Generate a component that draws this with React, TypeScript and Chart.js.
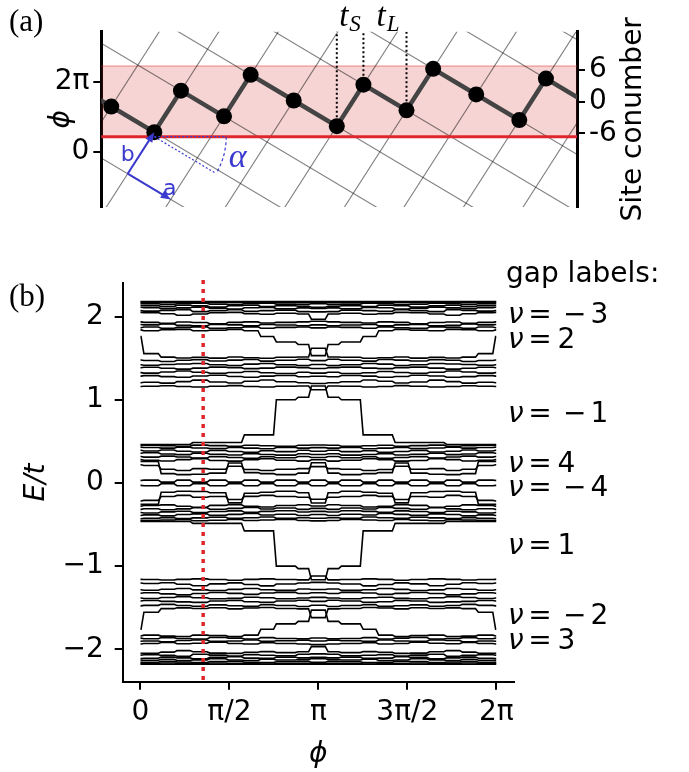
import React, { useEffect, useRef } from "react";
import { Chart, registerables } from "chart.js";
Chart.register(...registerables);

// ================= Panel (b): spectrum data =================
// segment edges in phi (levels are constant on each segment)
const phiSegmentEdges = [0, 0.035, 0.34, 0.62, 0.9, 1.2, 1.53, 1.81, 2.1, 2.375, 2.76, 2.994, 3.289, 3.524, 3.908, 4.183, 4.473, 4.753, 5.083, 5.383, 5.663, 5.943, 6.248, 6.2832];

// upper top cluster and sub band (E ~ 1.8 .. 2.2)
const levelsUpperOuter = [
  [2.18,2.18,2.18,2.18,2.18,2.18,2.18,2.18,2.18,2.18,2.18,2.18,2.18,2.18,2.18,2.18,2.18,2.18,2.18,2.18,2.18,2.18,2.18],
  [2.172,2.172,2.166,2.17,2.172,2.166,2.17,2.172,2.166,2.172,2.168,2.172,2.168,2.172,2.166,2.172,2.17,2.166,2.172,2.17,2.166,2.172,2.172],
  [2.158,2.156,2.146,2.154,2.16,2.148,2.144,2.156,2.16,2.15,2.146,2.156,2.146,2.15,2.16,2.156,2.144,2.148,2.16,2.154,2.146,2.156,2.158],
  [2.134,2.132,2.12,2.136,2.128,2.114,2.13,2.136,2.12,2.13,2.124,2.112,2.124,2.13,2.12,2.136,2.13,2.114,2.128,2.136,2.12,2.132,2.134],
  [2.112,2.108,2.094,2.104,2.114,2.098,2.09,2.106,2.11,2.094,2.104,2.098,2.104,2.094,2.11,2.106,2.09,2.098,2.114,2.104,2.094,2.108,2.112],
  [2.072,2.066,2.074,2.084,2.06,2.07,2.082,2.064,2.072,2.078,2.06,2.056,2.06,2.078,2.072,2.064,2.082,2.07,2.06,2.084,2.074,2.066,2.072],
  [2.05,2.048,2.034,2.016,2.03,2.046,2.05,2.036,2.028,2.04,2.03,1.968,2.03,2.04,2.028,2.036,2.05,2.046,2.03,2.016,2.034,2.048,2.05],
  [1.936,1.93,1.918,1.934,1.928,1.914,1.93,1.936,1.922,1.93,1.936,1.944,1.936,1.93,1.922,1.936,1.93,1.914,1.928,1.934,1.918,1.93,1.936],
  [1.904,1.9,1.91,1.894,1.888,1.904,1.9,1.888,1.904,1.898,1.89,1.9,1.89,1.898,1.904,1.888,1.9,1.904,1.888,1.894,1.91,1.9,1.904],
  [1.866,1.874,1.86,1.87,1.876,1.858,1.866,1.876,1.86,1.87,1.874,1.864,1.874,1.87,1.86,1.876,1.866,1.858,1.876,1.87,1.86,1.874,1.866],
  [1.84,1.83,1.842,1.846,1.83,1.836,1.846,1.83,1.76,1.695,1.665,1.53,1.665,1.695,1.76,1.83,1.846,1.836,1.83,1.846,1.842,1.83,1.84],
];
// upper middle band (E ~ 1.15 .. 1.52), first one carries the phi~0 gap state
const levelsUpperMiddle = [
  [1.76,1.555,1.512,1.502,1.51,1.5,1.514,1.504,1.498,1.51,1.514,1.62,1.514,1.51,1.498,1.504,1.514,1.5,1.51,1.502,1.512,1.555,1.76],
  [1.478,1.472,1.46,1.474,1.482,1.466,1.476,1.484,1.464,1.474,1.486,1.47,1.486,1.474,1.464,1.484,1.476,1.466,1.482,1.474,1.46,1.472,1.478],
  [1.42,1.414,1.424,1.43,1.436,1.42,1.412,1.428,1.436,1.42,1.41,1.424,1.41,1.42,1.436,1.428,1.412,1.42,1.436,1.43,1.424,1.414,1.42],
  [1.384,1.39,1.378,1.368,1.38,1.392,1.386,1.374,1.38,1.392,1.384,1.376,1.384,1.392,1.38,1.374,1.386,1.392,1.38,1.368,1.378,1.39,1.384],
  [1.326,1.32,1.334,1.346,1.33,1.318,1.328,1.34,1.324,1.316,1.33,1.32,1.33,1.316,1.324,1.34,1.328,1.318,1.33,1.346,1.334,1.32,1.326],
  [1.284,1.29,1.278,1.27,1.286,1.294,1.28,1.27,1.284,1.292,1.276,1.282,1.276,1.292,1.284,1.27,1.28,1.294,1.286,1.27,1.278,1.29,1.284],
  [1.204,1.21,1.2,1.218,1.236,1.214,1.202,1.222,1.238,1.216,1.204,1.196,1.204,1.216,1.238,1.222,1.202,1.214,1.236,1.218,1.2,1.21,1.204],
  [1.16,1.162,1.168,1.16,1.154,1.162,1.17,1.16,1.154,1.162,1.166,1.12,1.166,1.162,1.154,1.16,1.17,1.162,1.154,1.16,1.168,1.162,1.16],
];
// in-gap state of the nu = -1 gap
const levelsUpperEdge = [
  [0.462,0.462,0.462,0.462,0.486,0.486,0.486,0.577,0.577,1.0,1.03,1.165,1.03,1.0,0.577,0.577,0.486,0.486,0.486,0.462,0.462,0.462,0.462],
];
// central band, positive side
const levelsUpperInner = [
  [0.452,0.452,0.446,0.44,0.454,0.448,0.44,0.452,0.446,0.44,0.452,0.456,0.452,0.44,0.446,0.452,0.44,0.448,0.454,0.44,0.446,0.452,0.452],
  [0.43,0.426,0.418,0.428,0.42,0.412,0.426,0.418,0.41,0.426,0.418,0.424,0.418,0.426,0.41,0.418,0.426,0.412,0.42,0.428,0.418,0.426,0.43],
  [0.392,0.384,0.396,0.38,0.372,0.39,0.378,0.368,0.386,0.376,0.392,0.38,0.392,0.376,0.386,0.368,0.378,0.39,0.372,0.38,0.396,0.384,0.392],
  [0.356,0.362,0.348,0.34,0.356,0.344,0.336,0.352,0.342,0.334,0.35,0.342,0.35,0.334,0.342,0.352,0.336,0.344,0.356,0.34,0.348,0.362,0.356],
  [0.318,0.31,0.322,0.312,0.298,0.316,0.306,0.296,0.314,0.302,0.318,0.306,0.318,0.302,0.314,0.296,0.306,0.316,0.298,0.312,0.322,0.31,0.318],
  [0.28,0.272,0.264,0.28,0.292,0.27,0.262,0.28,0.29,0.272,0.262,0.278,0.262,0.272,0.29,0.28,0.262,0.27,0.292,0.28,0.264,0.272,0.28],
  [0.258,0.258,0.112,0.1,0.104,0.118,0.24,0.124,0.112,0.1,0.118,0.242,0.118,0.1,0.112,0.124,0.24,0.118,0.104,0.1,0.112,0.258,0.258],
  [0.218,0.21,0.164,0.15,0.172,0.164,0.2,0.162,0.15,0.164,0.172,0.196,0.172,0.164,0.15,0.162,0.2,0.164,0.172,0.15,0.164,0.21,0.218],
  [0.03,0.034,0.01,0.034,0.01,0.034,0.01,0.034,0.01,0.034,0.01,0.034,0.01,0.034,0.01,0.034,0.01,0.034,0.01,0.034,0.01,0.034,0.03],
];
// central band, negative side
const levelsLowerInner = [
  [-0.03,-0.034,-0.01,-0.034,-0.01,-0.034,-0.01,-0.034,-0.01,-0.034,-0.01,-0.034,-0.01,-0.034,-0.01,-0.034,-0.01,-0.034,-0.01,-0.034,-0.01,-0.034,-0.03],
  [-0.218,-0.21,-0.164,-0.15,-0.172,-0.164,-0.2,-0.162,-0.15,-0.164,-0.172,-0.196,-0.172,-0.164,-0.15,-0.162,-0.2,-0.164,-0.172,-0.15,-0.164,-0.21,-0.218],
  [-0.258,-0.258,-0.112,-0.1,-0.104,-0.118,-0.24,-0.124,-0.112,-0.1,-0.118,-0.242,-0.118,-0.1,-0.112,-0.124,-0.24,-0.118,-0.104,-0.1,-0.112,-0.258,-0.258],
  [-0.28,-0.272,-0.264,-0.28,-0.292,-0.27,-0.262,-0.28,-0.29,-0.272,-0.262,-0.278,-0.262,-0.272,-0.29,-0.28,-0.262,-0.27,-0.292,-0.28,-0.264,-0.272,-0.28],
  [-0.318,-0.31,-0.322,-0.312,-0.298,-0.316,-0.306,-0.296,-0.314,-0.302,-0.318,-0.306,-0.318,-0.302,-0.314,-0.296,-0.306,-0.316,-0.298,-0.312,-0.322,-0.31,-0.318],
  [-0.356,-0.362,-0.348,-0.34,-0.356,-0.344,-0.336,-0.352,-0.342,-0.334,-0.35,-0.342,-0.35,-0.334,-0.342,-0.352,-0.336,-0.344,-0.356,-0.34,-0.348,-0.362,-0.356],
  [-0.392,-0.384,-0.396,-0.38,-0.372,-0.39,-0.378,-0.368,-0.386,-0.376,-0.392,-0.38,-0.392,-0.376,-0.386,-0.368,-0.378,-0.39,-0.372,-0.38,-0.396,-0.384,-0.392],
  [-0.43,-0.426,-0.418,-0.428,-0.42,-0.412,-0.426,-0.418,-0.41,-0.426,-0.418,-0.424,-0.418,-0.426,-0.41,-0.418,-0.426,-0.412,-0.42,-0.428,-0.418,-0.426,-0.43],
  [-0.452,-0.452,-0.446,-0.44,-0.454,-0.448,-0.44,-0.452,-0.446,-0.44,-0.452,-0.456,-0.452,-0.44,-0.446,-0.452,-0.44,-0.448,-0.454,-0.44,-0.446,-0.452,-0.452],
];
// in-gap state of the nu = 1 gap
const levelsLowerEdge = [
  [-0.462,-0.462,-0.462,-0.462,-0.486,-0.486,-0.486,-0.577,-0.577,-1.0,-1.03,-1.165,-1.03,-1.0,-0.577,-0.577,-0.486,-0.486,-0.486,-0.462,-0.462,-0.462,-0.462],
];
// lower middle band (E ~ -1.15 .. -1.52)
const levelsLowerMiddle = [
  [-1.16,-1.162,-1.168,-1.16,-1.154,-1.162,-1.17,-1.16,-1.154,-1.162,-1.166,-1.12,-1.166,-1.162,-1.154,-1.16,-1.17,-1.162,-1.154,-1.16,-1.168,-1.162,-1.16],
  [-1.204,-1.21,-1.2,-1.218,-1.236,-1.214,-1.202,-1.222,-1.238,-1.216,-1.204,-1.196,-1.204,-1.216,-1.238,-1.222,-1.202,-1.214,-1.236,-1.218,-1.2,-1.21,-1.204],
  [-1.284,-1.29,-1.278,-1.27,-1.286,-1.294,-1.28,-1.27,-1.284,-1.292,-1.276,-1.282,-1.276,-1.292,-1.284,-1.27,-1.28,-1.294,-1.286,-1.27,-1.278,-1.29,-1.284],
  [-1.326,-1.32,-1.334,-1.346,-1.33,-1.318,-1.328,-1.34,-1.324,-1.316,-1.33,-1.32,-1.33,-1.316,-1.324,-1.34,-1.328,-1.318,-1.33,-1.346,-1.334,-1.32,-1.326],
  [-1.384,-1.39,-1.378,-1.368,-1.38,-1.392,-1.386,-1.374,-1.38,-1.392,-1.384,-1.376,-1.384,-1.392,-1.38,-1.374,-1.386,-1.392,-1.38,-1.368,-1.378,-1.39,-1.384],
  [-1.42,-1.414,-1.424,-1.43,-1.436,-1.42,-1.412,-1.428,-1.436,-1.42,-1.41,-1.424,-1.41,-1.42,-1.436,-1.428,-1.412,-1.42,-1.436,-1.43,-1.424,-1.414,-1.42],
  [-1.478,-1.472,-1.46,-1.474,-1.482,-1.466,-1.476,-1.484,-1.464,-1.474,-1.486,-1.47,-1.486,-1.474,-1.464,-1.484,-1.476,-1.466,-1.482,-1.474,-1.46,-1.472,-1.478],
  [-1.76,-1.555,-1.512,-1.502,-1.51,-1.5,-1.514,-1.504,-1.498,-1.51,-1.514,-1.62,-1.514,-1.51,-1.498,-1.504,-1.514,-1.5,-1.51,-1.502,-1.512,-1.555,-1.76],
];
// lower sub band and bottom cluster
const levelsLowerOuter = [
  [-1.84,-1.83,-1.842,-1.846,-1.83,-1.836,-1.846,-1.83,-1.76,-1.695,-1.665,-1.53,-1.665,-1.695,-1.76,-1.83,-1.846,-1.836,-1.83,-1.846,-1.842,-1.83,-1.84],
  [-1.866,-1.874,-1.86,-1.87,-1.876,-1.858,-1.866,-1.876,-1.86,-1.87,-1.874,-1.864,-1.874,-1.87,-1.86,-1.876,-1.866,-1.858,-1.876,-1.87,-1.86,-1.874,-1.866],
  [-1.904,-1.9,-1.91,-1.894,-1.888,-1.904,-1.9,-1.888,-1.904,-1.898,-1.89,-1.9,-1.89,-1.898,-1.904,-1.888,-1.9,-1.904,-1.888,-1.894,-1.91,-1.9,-1.904],
  [-1.936,-1.93,-1.918,-1.934,-1.928,-1.914,-1.93,-1.936,-1.922,-1.93,-1.936,-1.944,-1.936,-1.93,-1.922,-1.936,-1.93,-1.914,-1.928,-1.934,-1.918,-1.93,-1.936],
  [-2.05,-2.048,-2.034,-2.016,-2.03,-2.046,-2.05,-2.036,-2.028,-2.04,-2.03,-1.968,-2.03,-2.04,-2.028,-2.036,-2.05,-2.046,-2.03,-2.016,-2.034,-2.048,-2.05],
  [-2.072,-2.066,-2.074,-2.084,-2.06,-2.07,-2.082,-2.064,-2.072,-2.078,-2.06,-2.056,-2.06,-2.078,-2.072,-2.064,-2.082,-2.07,-2.06,-2.084,-2.074,-2.066,-2.072],
  [-2.112,-2.108,-2.094,-2.104,-2.114,-2.098,-2.09,-2.106,-2.11,-2.094,-2.104,-2.098,-2.104,-2.094,-2.11,-2.106,-2.09,-2.098,-2.114,-2.104,-2.094,-2.108,-2.112],
  [-2.134,-2.132,-2.12,-2.136,-2.128,-2.114,-2.13,-2.136,-2.12,-2.13,-2.124,-2.112,-2.124,-2.13,-2.12,-2.136,-2.13,-2.114,-2.128,-2.136,-2.12,-2.132,-2.134],
  [-2.158,-2.156,-2.146,-2.154,-2.16,-2.148,-2.144,-2.156,-2.16,-2.15,-2.146,-2.156,-2.146,-2.15,-2.16,-2.156,-2.144,-2.148,-2.16,-2.154,-2.146,-2.156,-2.158],
  [-2.172,-2.172,-2.166,-2.17,-2.172,-2.166,-2.17,-2.172,-2.166,-2.172,-2.168,-2.172,-2.168,-2.172,-2.166,-2.172,-2.17,-2.166,-2.172,-2.17,-2.166,-2.172,-2.172],
  [-2.18,-2.18,-2.18,-2.18,-2.18,-2.18,-2.18,-2.18,-2.18,-2.18,-2.18,-2.18,-2.18,-2.18,-2.18,-2.18,-2.18,-2.18,-2.18,-2.18,-2.18,-2.18,-2.18],
];

const gapLabelNu = ["−3", "2", "−1", "4", "−4", "1", "−2", "3"];
const gapLabelE = [2.011, 1.714, 0.824, 0.216, -0.072, -0.77, -1.612, -1.912];
const markerPhi = 1.107;
const markerERange = [-2.37, 2.5];
const eTicks = [-2, -1, 0, 1, 2];
const eTickLabels = ["−2", "−1", "0", "1", "2"];
const phiTicks = [0, Math.PI / 2, Math.PI, (3 * Math.PI) / 2, 2 * Math.PI];
const phiTickLabels = ["0", "π/2", "π", "3π/2", "2π"];

// ================= Panel (a): schematic data =================
const latticeAngleDeg = 31.72;
const chainM = [-2, -1, 0, 0, 1, 1, 2, 3, 3, 4, 4, 5, 6, 6, 7];
const chainN = [1, 1, 1, 2, 2, 3, 3, 3, 4, 4, 5, 5, 5, 6, 6];
const hoppingMarkSites = [7, 8, 9];
const gridLinesAlongA = [-2, -1, 0, 1, 2, 3, 4, 5, 6, 7, 8];
const gridLinesAlongB = [-3, -2, -1, 0, 1, 2, 3, 4, 5, 6, 7, 8, 9];
const windowBottom = 0.758;
const windowTop = 2.207;
const phiAxisTicks = [0, 2 * Math.PI];
const phiAxisLabels = ["0", "2π"];
const siteTicks = [-6, 0, 6];
const siteTickLabels = ["-6", "0", "6"];
const alphaRefLength = 1.42;

const FONT = "DejaVu Sans";
const RED = "#e0262a";
const BLUE = "#3a3acf";

const th = (latticeAngleDeg * Math.PI) / 180;
const vecA = { x: Math.cos(th), y: -Math.sin(th) };
const vecB = { x: Math.sin(th), y: Math.cos(th) };
const site = (m: number, n: number) => ({ x: m * vecA.x + n * vecB.x, y: m * vecA.y + n * vecB.y });

const RAMP = 0.025;
function stepPoints(values: number[]) {
  const pts: { x: number; y: number }[] = [];
  const last = values.length - 1;
  values.forEach((v, k) => {
    const x0 = k === 0 ? phiSegmentEdges[0] : phiSegmentEdges[k] + RAMP;
    const x1 = k === last ? phiSegmentEdges[k + 1] : phiSegmentEdges[k + 1] - RAMP;
    pts.push({ x: x0, y: v }, { x: x1, y: v });
  });
  return pts;
}

function axisStyle(width: number) {
  return {
    border: { display: true, color: "#000", width },
    grid: { display: true, drawOnChartArea: false, drawTicks: true, tickLength: 8, tickWidth: 2, tickColor: "#000", color: "#000", lineWidth: 2 },
  };
}

function buildChartA(canvas: HTMLCanvasElement) {
  const chainPts = chainM.map((m, i) => site(m, chainN[i]));
  const datasets: any[] = [];
  datasets.push({
    data: [{ x: -3, y: windowTop }, { x: 12, y: windowTop }],
    borderColor: "rgba(214,39,40,0.35)", borderWidth: 1.5,
    backgroundColor: "rgba(214,39,40,0.2)", fill: { value: windowBottom },
    pointRadius: 0, xAxisID: "x", yAxisID: "yLat", order: 10,
  });
  gridLinesAlongA.forEach((n) => {
    datasets.push({ data: [site(-14, n), site(14, n)], borderColor: "rgba(0,0,0,0.5)", borderWidth: 1.1, pointRadius: 0, fill: false, xAxisID: "x", yAxisID: "yLat", order: 9 });
  });
  gridLinesAlongB.forEach((m) => {
    datasets.push({ data: [site(m, -14), site(m, 14)], borderColor: "rgba(0,0,0,0.5)", borderWidth: 1.1, pointRadius: 0, fill: false, xAxisID: "x", yAxisID: "yLat", order: 9 });
  });
  datasets.push({
    data: [{ x: -3, y: windowBottom }, { x: 12, y: windowBottom }],
    borderColor: RED, borderWidth: 3, pointRadius: 0, fill: false, xAxisID: "x", yAxisID: "yLat", order: 8,
  });
  datasets.push({ data: chainPts, borderColor: "#444444", borderWidth: 4.5, pointRadius: 0, fill: false, xAxisID: "x", yAxisID: "yLat", order: 7, clip: 0 });
  hoppingMarkSites.forEach((idx) => {
    const p = chainPts[idx];
    datasets.push({ data: [p, { x: p.x, y: 4 }], borderColor: "#000", borderWidth: 2, borderDash: [2, 2.5], pointRadius: 0, fill: false, xAxisID: "x", yAxisID: "yLat", order: 6 });
  });
  datasets.push({ data: chainPts, showLine: false, pointRadius: 8, pointBackgroundColor: "#000", pointBorderColor: "#000", pointBorderWidth: 0, xAxisID: "x", yAxisID: "yLat", order: 5, clip: 0 });

  const overlayA = {
    id: "overlayA",
    afterDatasetsDraw(chart: any) {
      const ctx = chart.ctx;
      const xs = chart.scales.x, ys = chart.scales.yLat;
      const P = (x: number, y: number) => [xs.getPixelForValue(x), ys.getPixelForValue(y)];
      ctx.save();
      // alpha construction
      const [vx, vy] = P(vecB.x, windowBottom);
      const [hx] = P(vecB.x + alphaRefLength, windowBottom);
      const [ex, ey] = P(vecB.x + alphaRefLength * vecA.x, windowBottom + alphaRefLength * vecA.y);
      ctx.strokeStyle = BLUE; ctx.lineWidth = 1.2; ctx.setLineDash([2, 2]);
      ctx.beginPath(); ctx.moveTo(vx, vy); ctx.lineTo(hx, vy); ctx.stroke();
      ctx.beginPath(); ctx.moveTo(vx, vy); ctx.lineTo(ex, ey); ctx.stroke();
      ctx.setLineDash([3, 2.5]);
      const r = hx - vx;
      const angEnd = Math.atan2(ey - vy, ex - vx);
      ctx.beginPath(); ctx.arc(vx, vy, r, 0, angEnd); ctx.stroke();
      ctx.setLineDash([]);
      // lattice vectors
      const [ox, oy] = P(0, 0);
      const arrow = (x1: number, y1: number) => {
        const ang = Math.atan2(y1 - oy, x1 - ox), L = 10, W = 4;
        ctx.strokeStyle = BLUE; ctx.fillStyle = BLUE; ctx.lineWidth = 2;
        ctx.beginPath(); ctx.moveTo(ox, oy); ctx.lineTo(x1 - L * 0.7 * Math.cos(ang), y1 - L * 0.7 * Math.sin(ang)); ctx.stroke();
        ctx.beginPath(); ctx.moveTo(x1, y1);
        ctx.lineTo(x1 - L * Math.cos(ang) + W * Math.sin(ang), y1 - L * Math.sin(ang) - W * Math.cos(ang));
        ctx.lineTo(x1 - L * Math.cos(ang) - W * Math.sin(ang), y1 - L * Math.sin(ang) + W * Math.cos(ang));
        ctx.closePath(); ctx.fill();
      };
      const [axp, ayp] = P(vecA.x, vecA.y);
      const [bxp, byp] = P(vecB.x, vecB.y);
      arrow(axp, ayp); arrow(bxp, byp);
      ctx.fillStyle = BLUE; ctx.textAlign = "center"; ctx.textBaseline = "middle";
      ctx.font = `22px ${FONT}`;
      let [tx, ty] = P(0.0, 0.38); ctx.fillText("b", tx, ty);
      [tx, ty] = P(0.83, -0.32); ctx.fillText("a", tx, ty);
      ctx.font = `italic 34px "Liberation Serif"`;
      [tx, ty] = P(2.17, 0.33); ctx.fillText("α", tx, ty);
      // hopping labels
      ctx.fillStyle = "#000";
      const hop = (x: number, main: string, sub: string) => {
        const [px, py] = P(x, 3.2);
        ctx.textAlign = "left"; ctx.textBaseline = "alphabetic";
        ctx.font = `italic 33px "Liberation Serif"`;
        const w = ctx.measureText(main).width;
        ctx.font = `italic 23px "Liberation Serif"`;
        const ws = ctx.measureText(sub).width;
        const x0 = px - (w + ws) / 2;
        ctx.font = `italic 33px "Liberation Serif"`;
        ctx.fillText(main, x0, py + 8);
        ctx.font = `italic 23px "Liberation Serif"`;
        ctx.fillText(sub, x0 + w + 1, py + 13);
      };
      hop(4.38, "t", "S");
      hop(5.13, "t", "L");
      // panel label and right axis title
      ctx.textAlign = "left"; ctx.textBaseline = "alphabetic";
      ctx.font = `31px "Liberation Serif"`;
      ctx.fillText("(a)", 9, 31);
      const ca = chart.chartArea;
      ctx.translate(ca.right + 57, (ca.top + ca.bottom) / 2);
      ctx.rotate(-Math.PI / 2);
      ctx.textAlign = "center"; ctx.textBaseline = "middle";
      ctx.font = `28px ${FONT}`;
      ctx.fillText("Site conumber", 0, 0);
      ctx.restore();
    },
  };

  return new Chart(canvas, {
    type: "line",
    data: { datasets },
    options: {
      responsive: false, animation: false, devicePixelRatio: 1, events: [],
      layout: { padding: { left: 0, right: 0, top: 31.7, bottom: 565 } },
      plugins: { legend: { display: false }, tooltip: { enabled: false }, colors: { enabled: false } },
      elements: { line: { tension: 0 }, point: { radius: 0 } },
      scales: {
        x: { type: "linear", display: false, min: -0.521, max: 8.872 },
        yLat: { type: "linear", display: false, min: -0.682, max: 2.91 },
        yPhi: {
          type: "linear", position: "left", min: -4.964, max: 10.771,
          afterBuildTicks: (s: any) => { s.ticks = phiAxisTicks.map((v) => ({ value: v })); },
          afterFit: (s: any) => { s.width = 101.3; },
          ...axisStyle(3),
          ticks: { autoSkip: false, padding: 4, color: "#000", font: { family: FONT, size: 28 }, callback: (_v: any, i: number) => phiAxisLabels[i] },
          title: { display: true, text: "ϕ", color: "#000", font: { family: FONT, size: 28, style: "italic" }, padding: { top: 45, bottom: 0 } },
        },
        ySite: {
          type: "linear", position: "right", min: -19.96, max: 13.27,
          afterBuildTicks: (s: any) => { s.ticks = siteTicks.map((v) => ({ value: v })); },
          afterFit: (s: any) => { s.width = 112; },
          ...axisStyle(3),
          ticks: { autoSkip: false, padding: 4, color: "#000", font: { family: FONT, size: 28 }, callback: (_v: any, i: number) => siteTickLabels[i] },
        },
      },
    } as any,
    plugins: [overlayA],
  } as any);
}

function buildChartB(canvas: HTMLCanvasElement) {
  const allLevels = [
    ...levelsUpperOuter, ...levelsUpperMiddle, ...levelsUpperEdge, ...levelsUpperInner,
    ...levelsLowerInner, ...levelsLowerEdge, ...levelsLowerMiddle, ...levelsLowerOuter,
  ];
  const datasets: any[] = allLevels.map((v) => ({
    data: stepPoints(v), borderColor: "#000", borderWidth: 1.6, pointRadius: 0, fill: false, order: 2, xAxisID: "x", yAxisID: "y",
  }));
  datasets.push({
    data: [{ x: markerPhi, y: markerERange[0] }, { x: markerPhi, y: markerERange[1] }],
    borderColor: RED, borderWidth: 3.5, borderDash: [4, 5], borderCapStyle: "butt",
    pointRadius: 0, fill: false, order: 1, clip: false, xAxisID: "x", yAxisID: "y",
  });

  const overlayB = {
    id: "overlayB",
    afterDraw(chart: any) {
      const ctx = chart.ctx;
      const ys = chart.scales.y;
      const ca = chart.chartArea;
      ctx.save();
      ctx.fillStyle = "#000";
      ctx.textAlign = "left"; ctx.textBaseline = "alphabetic";
      ctx.font = `31px "Liberation Serif"`;
      ctx.fillText("(b)", 9, 306);
      ctx.font = `28px ${FONT}`;
      ctx.fillText("gap labels:", ca.right - 8, ca.top - 1.5);
      ctx.textBaseline = "middle";
      gapLabelNu.forEach((nu, i) => {
        const y = ys.getPixelForValue(gapLabelE[i]);
        let x = ca.right - 6;
        ctx.font = `italic 28px ${FONT}`;
        ctx.fillText("ν", x, y);
        x += ctx.measureText("ν").width + 4.5;
        ctx.font = `28px ${FONT}`;
        ctx.fillText("=", x, y);
        x += ctx.measureText("=").width;
        if (nu.startsWith("−")) {
          x += 11.5;
          ctx.fillText("−", x, y);
          x += ctx.measureText("−").width + 4;
          ctx.fillText(nu.slice(1), x, y);
        } else {
          x += 6;
          ctx.fillText(nu, x, y);
        }
      });
      ctx.restore();
    },
  };

  return new Chart(canvas, {
    type: "line",
    data: { datasets },
    options: {
      responsive: false, animation: false, devicePixelRatio: 1, events: [],
      layout: { padding: { left: 0, right: 175, top: 283.3, bottom: 0 } },
      plugins: { legend: { display: false }, tooltip: { enabled: false }, colors: { enabled: false } },
      elements: { line: { tension: 0 }, point: { radius: 0 } },
      scales: {
        x: {
          type: "linear", min: -0.3142, max: 6.5973,
          afterBuildTicks: (s: any) => { s.ticks = phiTicks.map((v) => ({ value: v })); },
          afterFit: (s: any) => { s.height = 90.3; },
          ...axisStyle(2),
          ticks: { autoSkip: false, maxRotation: 0, minRotation: 0, padding: 6, color: "#000", font: { family: FONT, size: 28 }, callback: (_v: any, i: number) => phiTickLabels[i] },
          title: { display: true, text: "ϕ", color: "#000", font: { family: FONT, size: 28, style: "italic" }, padding: { top: 0, bottom: 0 } },
        },
        y: {
          type: "linear", min: -2.39, max: 2.4,
          afterBuildTicks: (s: any) => { s.ticks = eTicks.map((v) => ({ value: v })); },
          afterFit: (s: any) => { s.width = 122.7; },
          ...axisStyle(2),
          ticks: { autoSkip: false, padding: 11, color: "#000", font: { family: FONT, size: 28 }, callback: (_v: any, i: number) => eTickLabels[i] },
          title: { display: true, text: "E/t", color: "#000", font: { family: FONT, size: 28, style: "italic" }, padding: { top: 20, bottom: 0 } },
        },
      },
    } as any,
    plugins: [overlayB],
  } as any);
}

export default function App() {
  const refA = useRef<HTMLCanvasElement>(null);
  const refB = useRef<HTMLCanvasElement>(null);
  useEffect(() => {
    const a = buildChartA(refA.current!);
    const b = buildChartB(refB.current!);
    return () => { a.destroy(); b.destroy(); };
  }, []);
  return (
    <div style={{ position: "absolute", left: 0, top: 0, width: 689, height: 772, background: "#fff", overflow: "hidden" }}>
      <canvas ref={refB} width={689} height={772} style={{ position: "absolute", left: 0, top: 0 }} />
      <canvas ref={refA} width={689} height={772} style={{ position: "absolute", left: 0, top: 0 }} />
    </div>
  );
}
